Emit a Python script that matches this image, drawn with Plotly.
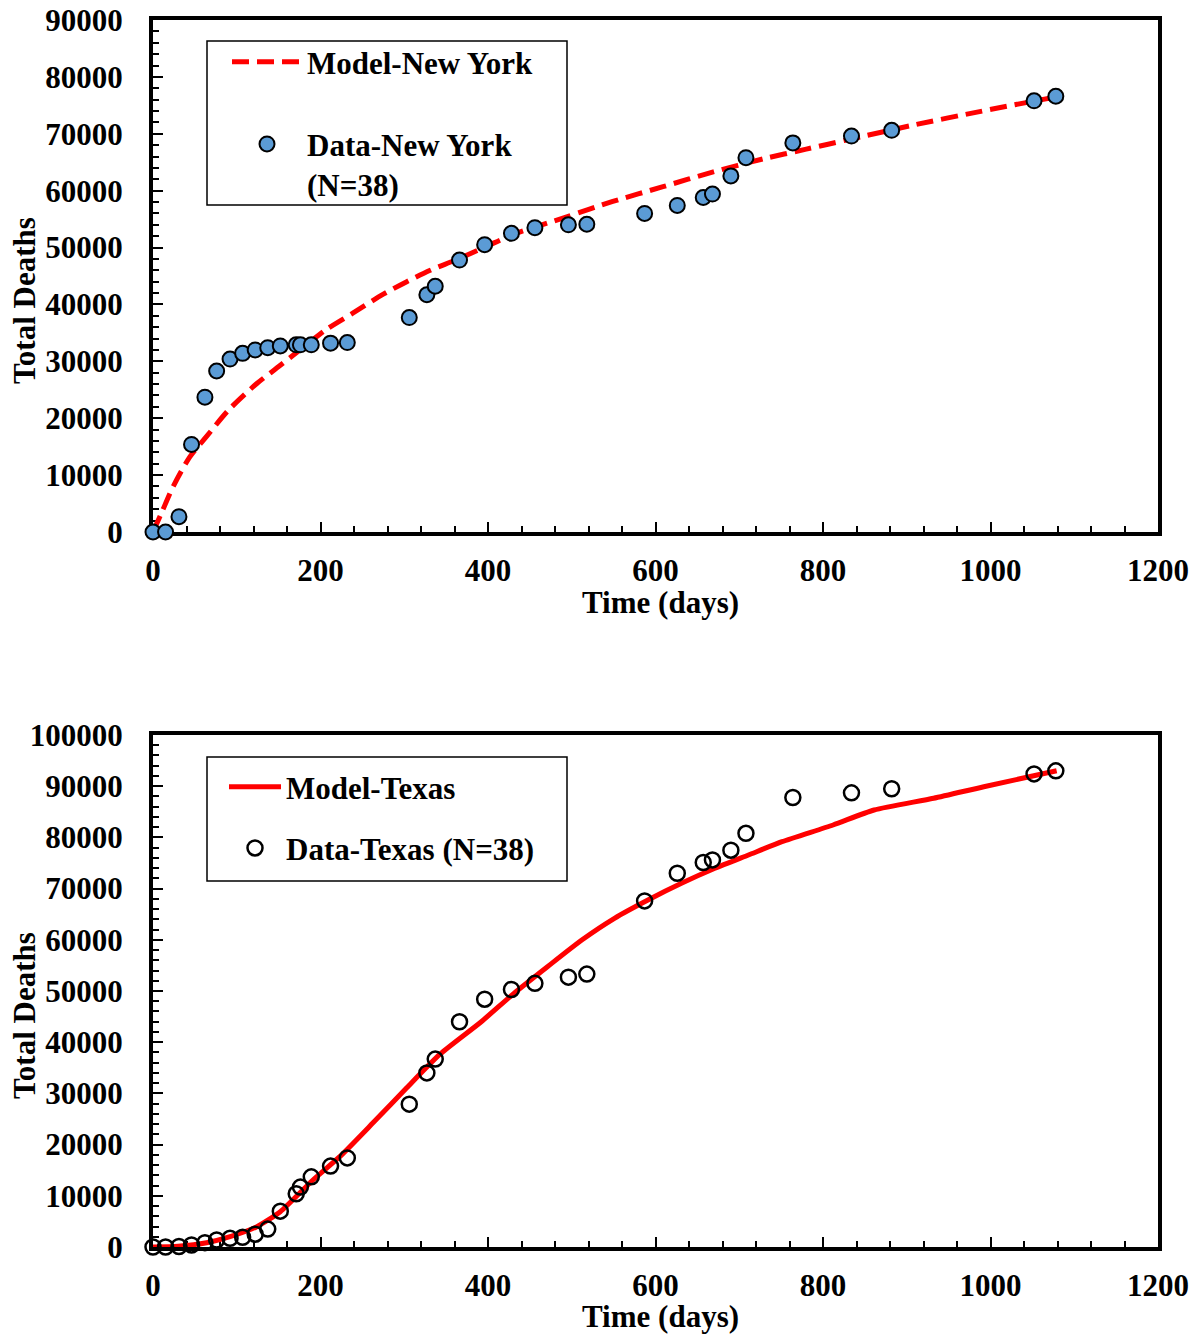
import plotly.graph_objects as go

# ---------------- data ----------------
days = [0, 15, 31, 46, 62, 76, 92, 107, 122, 137, 152, 171, 176, 189, 212, 232,
        306, 327, 337, 366, 396, 428, 456, 496, 518, 587, 626, 657, 668, 690,
        708, 764, 834, 882, 1052, 1078]

ny_deaths = [0, 0, 2700, 15400, 23700, 28300, 30400, 31400, 32000, 32400, 32700,
             32900, 32900, 32900, 33200, 33300, 37700, 41700, 43200, 47800, 50500,
             52500, 53500, 54000, 54100, 56000, 57400, 58800, 59400, 62600, 65800,
             68400, 69600, 70600, 75800, 76600]

tx_deaths = [0, 0, 100, 400, 850, 1370, 1700, 1900, 2500, 3500, 7000, 10400,
             11700, 13700, 15800, 17400, 27900, 34000, 36700, 44000, 48400, 50300,
             51500, 52700, 53300, 67600, 73000, 75100, 75600, 77500, 80800, 87800,
             88700, 89500, 92400, 93000]

ny_model_days = [0, 10, 24, 44, 64, 90, 124, 152, 184, 207, 239, 275, 303, 331,
                 363, 398, 430, 494, 549, 609, 669, 729, 780, 828, 907, 987, 1079]
ny_model_deaths = [0, 3300, 7960, 13200, 16800, 21400, 26100, 29300, 33000, 35600,
                   38500, 41800, 44000, 46000, 47900, 50200, 52300, 55400, 58100,
                   60700, 63300, 65600, 67300, 68900, 71500, 73900, 76500]

tx_model_days = [0, 30, 64, 92, 124, 152, 191, 223, 263, 303, 343, 392, 431, 471,
                 512, 551, 591, 631, 671, 711, 751, 812, 861, 932, 992, 1079]
tx_model_deaths = [0, 150, 840, 2020, 3970, 6900, 13090, 17640, 24300, 31100, 37700,
                   44000, 49550, 54750, 59960, 64200, 67770, 71030, 73960, 76560,
                   79160, 82420, 85350, 87640, 89900, 93030]

x_ticks = [0, 200, 400, 600, 800, 1000, 1200]

# ---------------- layout geometry ----------------
OFF = 8                      # page body margin in the browser
W, H = 1198 - OFF, 1335 - OFF
FONT = "Liberation Serif"
FS = 31

def px_x(p):
    return (p - OFF) / W

def px_y(p):
    return 1 - (p - OFF) / H

fig = go.Figure()

fig.add_trace(go.Scatter(
    x=ny_model_days, y=ny_model_deaths, mode="lines", name="Model-New York",
    line=dict(color="#FF0000", width=5, dash="17px,8px", shape="spline", smoothing=0.8),
    xaxis="x", yaxis="y", legend="legend", legendgroup="a", cliponaxis=False))
fig.add_trace(go.Scatter(
    x=days, y=ny_deaths, mode="markers", name="Data-New York<br>(N=38)",
    marker=dict(color="#5B9BD5", size=15, line=dict(color="black", width=2)),
    xaxis="x", yaxis="y", legend="legend", legendgroup="b", cliponaxis=False))

fig.add_trace(go.Scatter(
    x=tx_model_days, y=tx_model_deaths, mode="lines", name="Model-Texas",
    line=dict(color="#FF0000", width=5, shape="spline", smoothing=0.6),
    xaxis="x2", yaxis="y2", legend="legend2", legendgroup="c", cliponaxis=False))
fig.add_trace(go.Scatter(
    x=days, y=tx_deaths, mode="markers", name="Data-Texas (N=38)",
    marker=dict(symbol="circle-open", color="black", size=15, line=dict(color="black", width=2.5)),
    xaxis="x2", yaxis="y2", legend="legend2", legendgroup="d", cliponaxis=False))

tickfont = dict(family=FONT, size=FS, color="black", weight="bold")

def xaxis_cfg(domain_y_anchor):
    return dict(
        domain=[px_x(153), px_x(1158)], anchor=domain_y_anchor, automargin=False,
        range=[0, 1200], tickvals=x_ticks, tickformat="d",
        ticks="inside", ticklen=10, tickwidth=2, tickcolor="black",
        minor=dict(dtick=40, ticks="inside", ticklen=6, tickwidth=1.5, tickcolor="black"),
        showline=True, linewidth=4, linecolor="black", mirror=True,
        showgrid=False, zeroline=False, tickfont=tickfont,
        ticklabelstandoff=8, ticklabeloverflow="allow", layer="below traces")

def yaxis_cfg(domain, rng, dtick, minor, anchor):
    return dict(
        domain=domain, anchor=anchor, automargin=False, range=rng, dtick=dtick, tick0=0,
        tickformat="d",
        ticks="inside", ticklen=10, tickwidth=2, tickcolor="black",
        minor=dict(dtick=minor, ticks="inside", ticklen=6, tickwidth=1.5, tickcolor="black"),
        showline=True, linewidth=4, linecolor="black", mirror=True,
        showgrid=False, zeroline=False, tickfont=tickfont,
        ticklabelstandoff=20, ticklabeloverflow="allow", layer="below traces")

legfont = dict(family=FONT, size=FS, color="black", weight="bold")

fig.update_layout(
    width=W, height=H,
    margin=dict(l=0, r=0, t=0, b=0, autoexpand=False),
    paper_bgcolor="white", plot_bgcolor="white",
    font=dict(family=FONT, size=FS, color="black"),
    xaxis=xaxis_cfg("y"),
    yaxis=yaxis_cfg([px_y(532), px_y(20)], [0, 90000], 10000, 2000, "x"),
    xaxis2=xaxis_cfg("y2"),
    yaxis2=yaxis_cfg([px_y(1247), px_y(735)], [0, 100000], 10000, 2000, "x2"),
    legend=dict(x=px_x(227), y=px_y(35), xanchor="left", yanchor="top",
                bgcolor="rgba(0,0,0,0)", borderwidth=0, font=legfont,
                itemwidth=70, tracegroupgap=39, valign="top", traceorder="grouped"),
    legend2=dict(x=px_x(224), y=px_y(760), xanchor="left", yanchor="top",
                 bgcolor="rgba(0,0,0,0)", borderwidth=0, font=legfont,
                 itemwidth=52, tracegroupgap=18, valign="top", traceorder="grouped"),
    showlegend=True,
)

# legend frames
fig.add_shape(type="rect", xref="paper", yref="paper",
              x0=px_x(207), x1=px_x(567), y0=px_y(205), y1=px_y(41),
              line=dict(color="black", width=1.5))
fig.add_shape(type="rect", xref="paper", yref="paper",
              x0=px_x(207), x1=px_x(567), y0=px_y(881), y1=px_y(757),
              line=dict(color="black", width=1.5))

# axis titles
titles = [
    dict(text="Total Deaths", x=px_x(24), y=px_y(301), textangle=-90),
    dict(text="Total Deaths", x=px_x(24), y=px_y(1016), textangle=-90),
    dict(text="Time (days)", x=px_x(660), y=px_y(602), textangle=0),
    dict(text="Time (days)", x=px_x(660), y=px_y(1316), textangle=0),
]
for t in titles:
    fig.add_annotation(text=t["text"], x=t["x"], y=t["y"], xref="paper", yref="paper",
                       textangle=t["textangle"], showarrow=False,
                       xanchor="center", yanchor="middle",
                       font=dict(family=FONT, size=FS, color="black", weight="bold"))

fig.write_html("out.html")
